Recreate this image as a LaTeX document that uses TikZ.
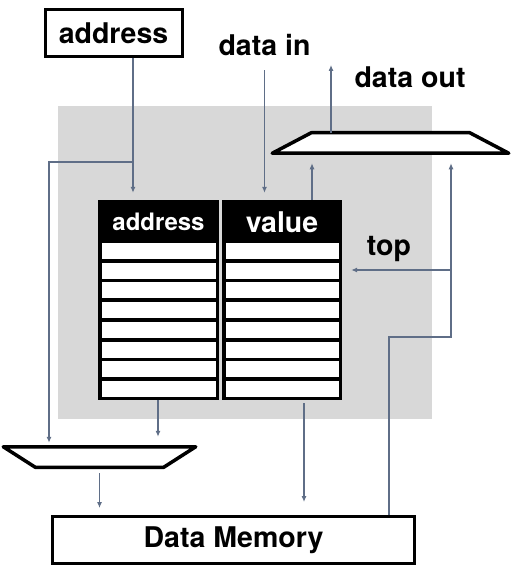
\documentclass[tikz,border=0pt]{standalone}
\usepackage{fontspec}
\setmainfont{TeX Gyre Heros}
\usetikzlibrary{arrows.meta,positioning,calc}
\definecolor{wirec}{RGB}{95,110,135}
\definecolor{panelc}{RGB}{216,216,216}
\tikzset{
    >={Latex[length=6pt,width=5pt]},
    wire/.style={draw=wirec,line width=1.1pt},
    lbltext/.style={font=\fontsize{28.5}{30}\selectfont\bfseries,inner sep=0pt},
    box/.style={draw,line width=3pt,fill=white,inner sep=0pt},
    muxline/.style={draw,line width=3.5pt,fill=white,line join=round},
    muxframe/.style={inner sep=0pt,outer sep=1.75pt,minimum height=17pt},
    table/.style={fill=black,inner sep=0pt,minimum height=200pt}
}

\begin{document}
\begin{tikzpicture}[x=1pt,y=-1pt]
    \useasboundingbox (0,0) rectangle (513,572);

    % grey panel
    \fill[panelc] (58,106) rectangle (432,419);

    % stack table
    \node[table,minimum width=121pt] (addrtab) at (158.5,300) {};
    \node[table,minimum width=120pt] (valtab) at (282,300) {};
    \foreach \i in {0,...,7} {
        \fill[white] (102,243+19.7*\i) rectangle (216,259+19.7*\i);
        \fill[white] (226,243+19.7*\i) rectangle (339,259+19.7*\i);
    }
    \node[lbltext,font=\fontsize{24}{26}\selectfont\bfseries,text=white] (addrhead) at (158.5,221.5) {address};
    \node[lbltext,text=white] (valhead) at (282,222) {value};

    % boxes
    \node[box,lbltext,minimum width=137pt,minimum height=47pt] (addrbox) at (113.5,33) {address};
    \node[box,lbltext,minimum width=362pt,minimum height=47pt] (mem) at (233.5,540) {Data Memory};

    % muxes
    \node[muxframe,minimum width=233pt] (muxtop) at (390.5,143) {};
    \draw[muxline] (muxtop.south west) -- (muxtop.south east)
        -- ($(muxtop.north east)+(-39,0)$) -- ($(muxtop.north west)+(39,0)$) -- cycle;
    \node[muxframe,minimum width=189pt] (muxbot) at (99.5,457) {};
    \draw[muxline] (muxbot.north west) -- (muxbot.north east)
        -- ($(muxbot.south east)+(-32,0)$) -- ($(muxbot.south west)+(32,0)$) -- cycle;

    % labels
    \node[lbltext,anchor=base] (datain) at (264.5,56) {data in};
    \node[lbltext,anchor=base] (dataout) at (410,88) {data out};
    \node[lbltext,anchor=base] (toplbl) at (389,255) {top};

    % address wiring
    \coordinate (abr) at (133,162);
    \coordinate (alft) at (49,162);
    \draw[wire,->,shorten >=7pt] (addrbox.south -| abr) -- (abr) -- (abr |- addrtab.north);
    \draw[wire,->,shorten >=4pt] (abr) -- (alft) -- (alft |- muxbot.north);
    \draw[wire,->,shorten >=7pt,shorten <=14pt] (datain.south) -- (datain.south |- valtab.north);

    % value to output mux
    \coordinate (vout) at (312,180);
    \draw[wire,->,shorten >=10pt] (valtab.north -| vout) -- (vout |- muxtop.south);
    \coordinate (dout) at (331,65);
    \draw[wire,->] (muxtop.north -| dout) -- (dout);

    % top pointer loop
    \coordinate (tr1) at (451,337);
    \coordinate (tr2) at (389,337);
    \coordinate (tbr) at (451,270);
    \draw[wire,->,shorten >=10pt] (mem.north -| tr2) -- (tr2) -- (tr1) -- (tr1 |- muxtop.south);
    \draw[wire,->,shorten >=9pt] (tbr) -- (tbr -| valtab.east);

    % down to memory
    \coordinate (aout) at (158,420);
    \coordinate (vdown) at (304,420);
    \draw[wire,->,shorten >=10pt] (addrtab.south -| aout) -- (aout |- muxbot.north);
    \draw[wire,->,shorten >=13pt,shorten <=3pt] (valtab.south -| vdown) -- (vdown |- mem.north);
    \draw[wire,->,shorten >=7pt,shorten <=6pt] (muxbot.south) -- (muxbot.south |- mem.north);
\end{tikzpicture}
\end{document}
